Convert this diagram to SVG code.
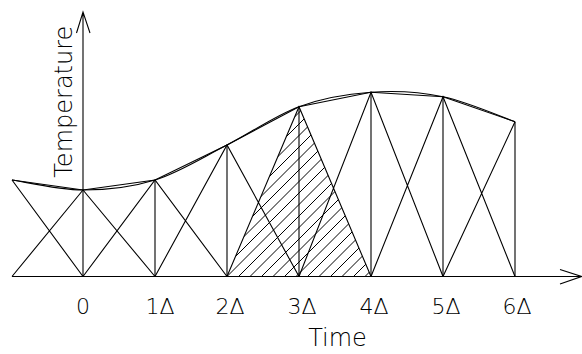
<svg xmlns="http://www.w3.org/2000/svg" width="582" height="354" viewBox="0 0 582 354">
<style>
.ln{fill:none;stroke:#000;stroke-width:1.1;stroke-linejoin:miter}
.hatch{fill:none;stroke:#000;stroke-width:1}
.t{font-family:"DejaVu Sans",Verdana,sans-serif;font-weight:200;fill:#000}
.lab{font-size:22px;text-anchor:middle}
.ttl{font-size:24px;text-anchor:middle}
</style>
<defs>
<clipPath id="tri"><polygon points="227,276.5 299,106.7 371,276.5"/></clipPath>
</defs>
<rect width="582" height="354" fill="#fff"/>
<g id="hatching" clip-path="url(#tri)">
<path class="hatch" d="M135 276.5l175 -175M146.5 276.5l175 -175M158 276.5l175 -175M169.5 276.5l175 -175M181 276.5l175 -175M192.5 276.5l175 -175M204 276.5l175 -175M215.5 276.5l175 -175M227 276.5l175 -175M238.5 276.5l175 -175M250 276.5l175 -175M261.5 276.5l175 -175M273 276.5l175 -175M284.5 276.5l175 -175M296 276.5l175 -175M307.5 276.5l175 -175M319 276.5l175 -175M330.5 276.5l175 -175M342 276.5l175 -175M353.5 276.5l175 -175M365 276.5l175 -175"/>
</g>
<g id="axes">
<path class="ln" d="M83 276.5V12M76.5 33L83 12L90 33"/>
<path class="ln" d="M12 276.5H581.5M560 269.5L581.5 276.5L560 284"/>
</g>
<g id="connectors">
<path class="ln" d="M155 276.5V180M227 276.5V145M299 276.5V106.7M371 276.5V92.3M443 276.5V96.7M515 276.5V121.7"/>
<path class="ln" d="M12 180L83 276.5M12 276.5L83 190L155 276.5M83 276.5L155 180L227 276.5M155 276.5L227 145L299 276.5M227 276.5L299 106.7L371 276.5M299 276.5L371 92.3L443 276.5M371 276.5L443 96.7L515 276.5M443 276.5L515 121.7"/>
<polyline class="ln" points="12,180 83,190 155,180 227,145 299,106.7 371,92.3 443,96.7 515,121.7"/>
<path class="ln" d="M12 180C23.8 181.7 59.2 190 83 190C106.8 190 131 187.5 155 180C179 172.5 203 157.2 227 145C251 132.8 275 115.5 299 106.7C323 97.9 347 94 371 92.3C395 90.6 419 91.8 443 96.7C467 101.6 503 117.5 515 121.7"/>
</g>
<g id="labels">
<text class="t lab" x="83" y="314">0</text>
<text class="t lab" x="160" y="314">1Δ</text>
<text class="t lab" x="230" y="314">2Δ</text>
<text class="t lab" x="302" y="314">3Δ</text>
<text class="t lab" x="374" y="314">4Δ</text>
<text class="t lab" x="446" y="314">5Δ</text>
<text class="t lab" x="517" y="314">6Δ</text>
<text class="t ttl" x="337.5" y="346">Time</text>
<text class="t ttl" transform="translate(71.5,101.7) rotate(-90)">Temperature</text>
</g>
</svg>
